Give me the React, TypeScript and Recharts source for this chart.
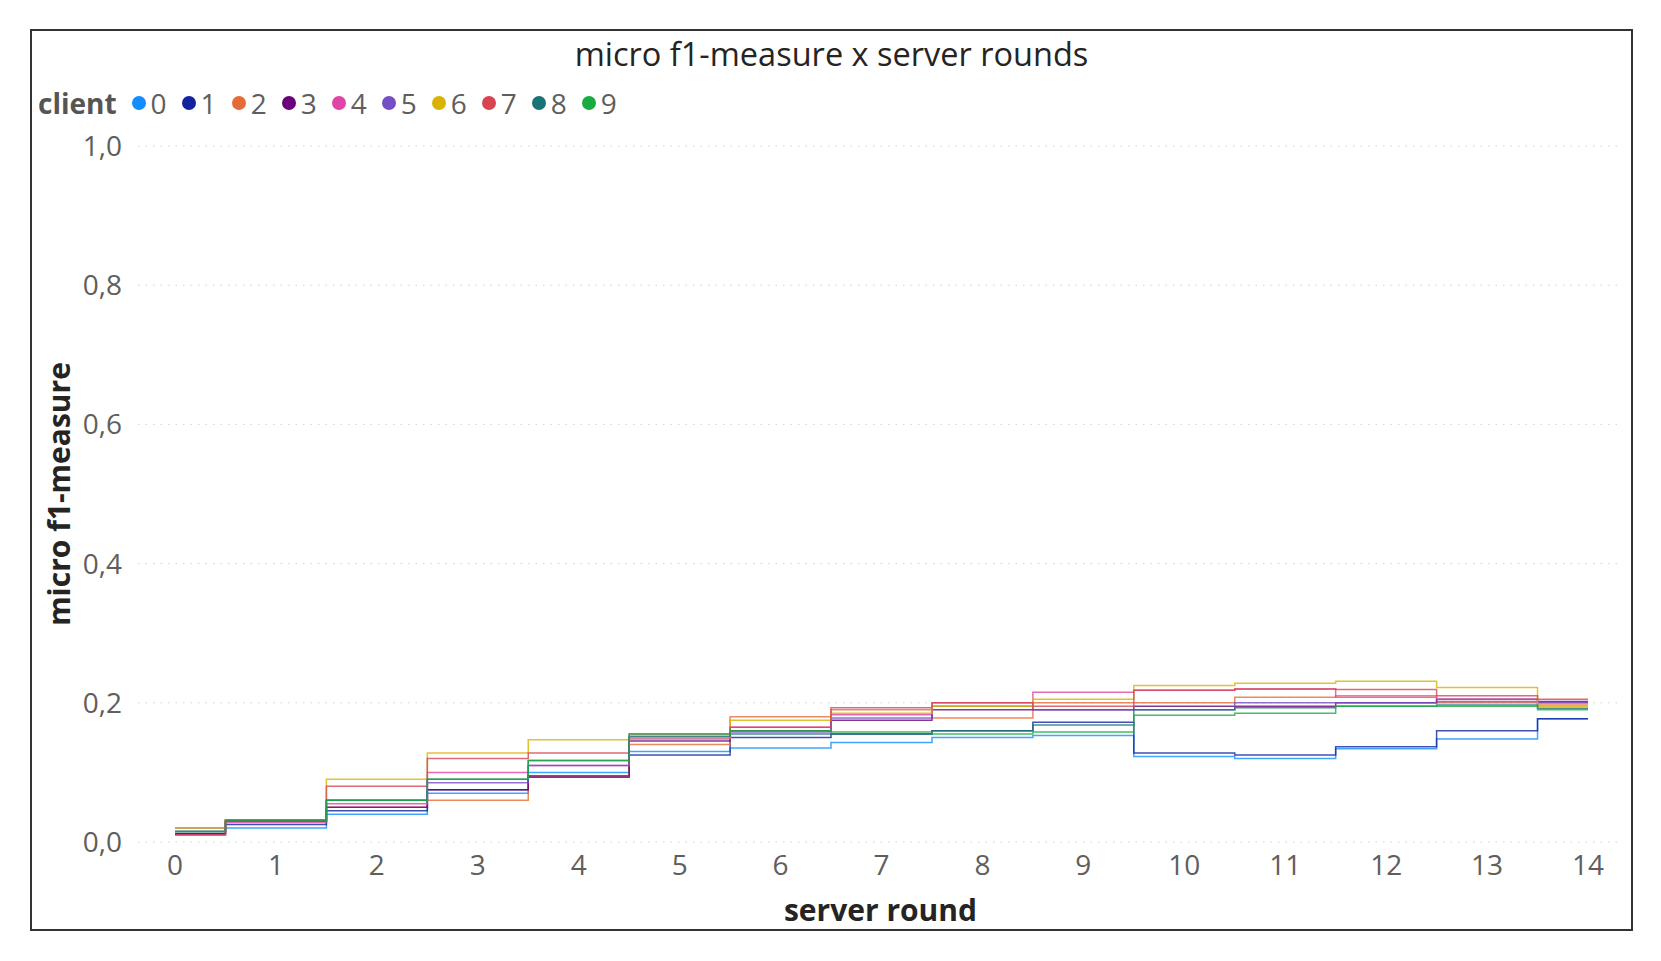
import React from "react";
import { CartesianGrid, Line, LineChart, XAxis, YAxis } from "recharts";

const rounds = [0, 1, 2, 3, 4, 5, 6, 7, 8, 9, 10, 11, 12, 13, 14];
const yTicks = [0, 0.2, 0.4, 0.6, 0.8, 1];

const clients = ["0", "1", "2", "3", "4", "5", "6", "7", "8", "9"];
const clientColors = ["#118DFF", "#12239E", "#E66C37", "#6B007B", "#E044A7", "#744EC2", "#D9B300", "#D64550", "#197278", "#1AAB40"];

const client0 = [0.015, 0.02, 0.04, 0.07, 0.1, 0.13, 0.135, 0.143, 0.15, 0.153, 0.123, 0.12, 0.134, 0.148, 0.177];
const client1 = [0.012, 0.025, 0.045, 0.075, 0.093, 0.125, 0.15, 0.155, 0.16, 0.172, 0.128, 0.125, 0.137, 0.16, 0.177];
const client2 = [0.01, 0.03, 0.05, 0.06, 0.095, 0.14, 0.18, 0.19, 0.178, 0.2, 0.2, 0.208, 0.21, 0.2, 0.197];
const client3 = [0.012, 0.03, 0.05, 0.075, 0.095, 0.145, 0.16, 0.175, 0.19, 0.19, 0.195, 0.195, 0.2, 0.205, 0.202];
const client4 = [0.015, 0.028, 0.055, 0.1, 0.11, 0.148, 0.165, 0.183, 0.2, 0.215, 0.218, 0.22, 0.208, 0.205, 0.2];
const client5 = [0.02, 0.03, 0.06, 0.085, 0.11, 0.15, 0.158, 0.178, 0.195, 0.19, 0.19, 0.2, 0.2, 0.202, 0.2];
const client6 = [0.02, 0.032, 0.09, 0.128, 0.147, 0.15, 0.175, 0.185, 0.195, 0.205, 0.225, 0.228, 0.231, 0.222, 0.195];
const client7 = [0.01, 0.032, 0.08, 0.12, 0.128, 0.155, 0.165, 0.193, 0.2, 0.195, 0.218, 0.22, 0.219, 0.21, 0.205];
const client8 = [0.015, 0.03, 0.06, 0.09, 0.117, 0.152, 0.155, 0.155, 0.16, 0.168, 0.19, 0.193, 0.195, 0.197, 0.192];
const client9 = [0.015, 0.03, 0.06, 0.09, 0.117, 0.155, 0.16, 0.158, 0.155, 0.158, 0.182, 0.185, 0.195, 0.195, 0.19];

const series = [client0, client1, client2, client3, client4, client5, client6, client7, client8, client9];

const data = rounds.map((round, i) => {
  const row: Record<string, number> = { round };
  clients.forEach((c, k) => {
    row[c] = series[k][i];
  });
  return row;
});

const font = "'Open Sans', 'Noto Sans', sans-serif";

function ClientLegend() {
  return (
    <div
      style={{
        position: "absolute",
        top: 53,
        left: 6,
        display: "flex",
        alignItems: "center",
        fontFamily: font,
        fontSize: 28,
        color: "#605E5C",
        whiteSpace: "nowrap",
      }}
    >
      <span style={{ fontWeight: 700, color: "#555", marginRight: 15 }}>client</span>
      {clients.map((c, k) => (
        <span key={c} style={{ display: "inline-flex", alignItems: "center", marginRight: 15 }}>
          <span style={{ width: 14, height: 14, borderRadius: "50%", background: clientColors[k], marginRight: 5 }} />
          {c}
        </span>
      ))}
    </div>
  );
}

export default function App() {
  return (
    <div
      style={{
        position: "absolute",
        left: 30,
        top: 29,
        width: 1603,
        height: 902,
        boxSizing: "border-box",
        border: "2px solid #333",
        background: "#fff",
      }}
    >
      <div
        style={{
          position: "absolute",
          top: 0,
          left: 0,
          width: "100%",
          textAlign: "center",
          fontFamily: font,
          fontSize: 32.5,
          color: "#252423",
        }}
      >
        micro f1-measure x server rounds
      </div>
      <ClientLegend />
      <LineChart width={1599} height={898} data={data} margin={{ top: 115, right: 8, bottom: 0, left: 0 }}>
        <CartesianGrid vertical={false} stroke="#d0d0d0" strokeDasharray="1.5 6" />
        <XAxis
          dataKey="round"
          type="number"
          domain={[0, 14]}
          ticks={rounds}
          padding={{ left: 37, right: 35 }}
          axisLine={false}
          tickLine={false}
          tickSize={0}
          tickMargin={13}
          height={87}
          tick={{ fill: "#605E5C", fontSize: 28, fontFamily: font }}
          label={{ value: "server round", position: "insideBottom", offset: 8, fill: "#252423", fontSize: 30, fontWeight: 700, fontFamily: font }}
        />
        <YAxis
          type="number"
          domain={[0, 1]}
          ticks={yTicks}
          tickFormatter={(v: number) => v.toFixed(1).replace(".", ",")}
          axisLine={false}
          tickLine={false}
          tickSize={0}
          tickMargin={16}
          width={106}
          tick={{ fill: "#605E5C", fontSize: 28, fontFamily: font }}
          label={{
            value: "micro f1-measure",
            angle: -90,
            position: "insideLeft",
            offset: 27,
            fill: "#252423",
            fontSize: 30,
            fontWeight: 700,
            fontFamily: font,
            style: { textAnchor: "middle" },
          }}
        />
        {clients.map((c, k) => (
          <Line
            key={c}
            type="step"
            dataKey={c}
            stroke={clientColors[k]}
            strokeWidth={1.5}
            strokeOpacity={0.8}
            dot={false}
            isAnimationActive={false}
          />
        ))}
      </LineChart>
    </div>
  );
}
